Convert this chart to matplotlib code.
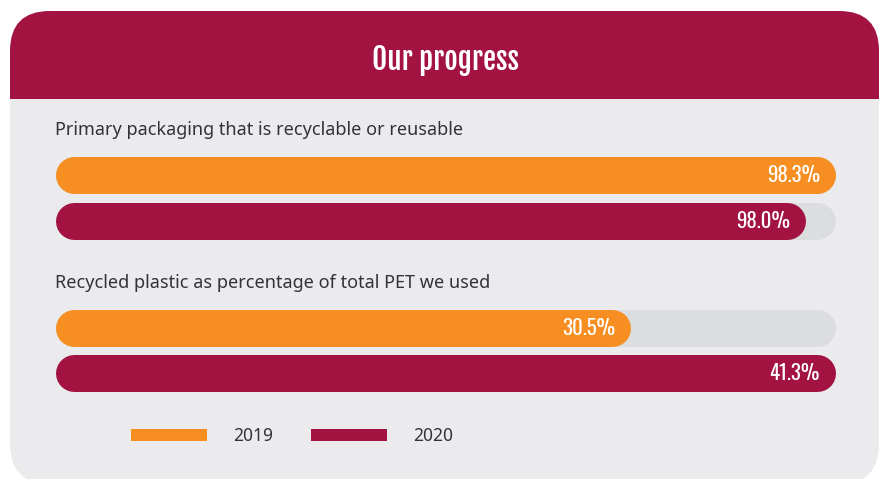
import matplotlib
matplotlib.use("Agg")
import matplotlib.pyplot as plt
from matplotlib.patches import FancyBboxPatch, Rectangle

# data
categories = ["Primary packaging that is recyclable or reusable",
              "Recycled plastic as percentage of total PET we used"]
years = ["2019", "2020"]
values_2019 = [98.3, 30.5]
values_2020 = [98.0, 41.3]
# bar lengths as they are drawn in the infographic (in % of the track)
fill_2019 = [100.0, 73.8]
fill_2020 = [96.2, 100.0]

orange = "#F68E21"
crimson = "#A31342"
track = "#DCDDDF"
body = "#EBEBED"
grey_txt = "#333335"

W, H = 882, 479
fig = plt.figure(figsize=(W / 100, H / 100), dpi=100)
fig.patch.set_facecolor("white")

# background axes in pixel coordinates
bg = fig.add_axes([0, 0, 1, 1])
bg.set_xlim(0, W)
bg.set_ylim(H, 0)
bg.axis("off")

# panel and header with rounded corners
bg.add_patch(FancyBboxPatch((10, 11), 869, 473, boxstyle="round,pad=0,rounding_size=40",
                            fc=body, ec="none"))
bg.add_patch(FancyBboxPatch((10, 11), 869, 130, boxstyle="round,pad=0,rounding_size=40",
                            fc=crimson, ec="none"))
bg.add_patch(Rectangle((10, 99), 869, 50, fc=body, ec="none"))

cond = ["Oswald", "DejaVu Sans"]
sans = ["Noto Sans", "DejaVu Sans"]
bg.text(445, 60, "Our progress", color="white", fontsize=21,
        family=["Fjalla One", "DejaVu Sans"], ha="center", va="center")

label_y = [130, 283]
for cat, y in zip(categories, label_y):
    bg.text(55, y, cat, color=grey_txt, fontsize=13,
            family=sans, ha="left", va="center")

# legend
for x, c, yr in [(131, orange, years[0]), (311, crimson, years[1])]:
    bg.add_patch(Rectangle((x, 429), 76, 12, fc=c, ec="none"))
    bg.text(x + 102, 436, yr, color=grey_txt, fontsize=12.5,
            family=sans, ha="left", va="center")

# bar axes: x in percent of the track
x0, x1 = 55, 835
y_top, y_bot = 150, 400
ax = fig.add_axes([x0 / W, 1 - y_bot / H, (x1 - x0) / W, (y_bot - y_top) / H])
ax.set_xlim(0, 100)
ax.set_ylim(y_bot, y_top)
ax.axis("off")

bar_px = 37
r = (bar_px / 2) / ((x1 - x0) / 100.0)   # cap radius in percent units
lw = bar_px * 72 / 100                     # bar thickness in points
row_y = [175.5, 221.5, 328.5, 373.5]

rows = []
for i in range(len(categories)):
    rows.append((values_2019[i], fill_2019[i], orange))
    rows.append((values_2020[i], fill_2020[i], crimson))

for (val, fill, col), yc in zip(rows, row_y):
    ax.plot([r, 100 - r], [yc, yc], color=track, lw=lw,
            solid_capstyle="round", clip_on=False)
    ax.plot([r, fill - r], [yc, yc], color=col, lw=lw,
            solid_capstyle="round", clip_on=False)
    ax.annotate(f"{val:.1f}%", (fill, yc), xytext=(-15, 0),
                textcoords="offset pixels", color="white", fontsize=15,
                family=cond, ha="right", va="center")

fig.savefig("out.png", dpi=100)
